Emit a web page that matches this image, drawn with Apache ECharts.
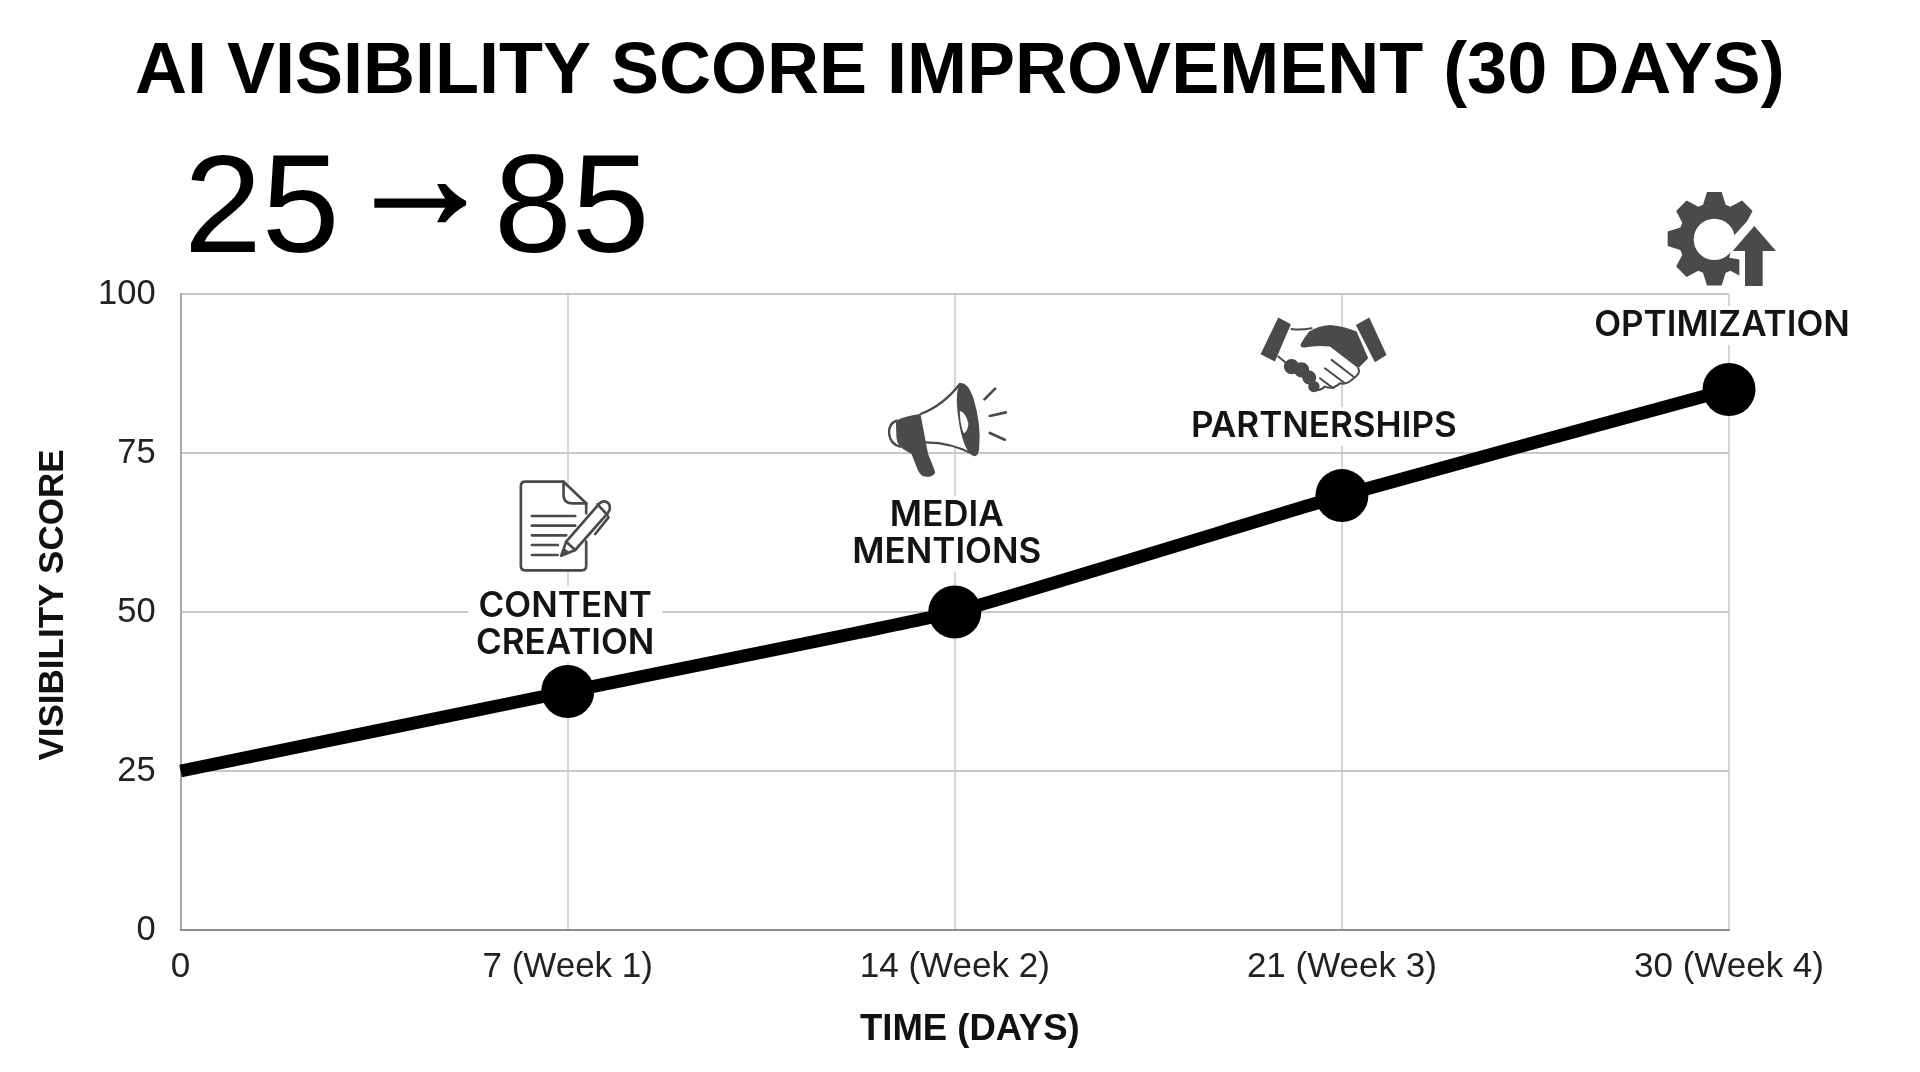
<!DOCTYPE html>
<html>
<head>
<meta charset="utf-8">
<title>AI Visibility Score Improvement</title>
<script src="https://cdn.jsdelivr.net/npm/echarts@6/dist/echarts.min.js"></script>
<style>html,body{margin:0;padding:0;background:#fefefe}#chart{width:1920px;height:1072px}</style>
</head>
<body>
<div id="chart"></div>
<script>
const chartTitle = 'AI VISIBILITY SCORE IMPROVEMENT (30 DAYS)';
const dayLabels = ['0', '7 (Week 1)', '14 (Week 2)', '21 (Week 3)', '30 (Week 4)'];
const visibilityScores = [25, 37.5, 50, 68.3, 85];
const milestones = ['', 'CONTENT\nCREATION', 'MEDIA\nMENTIONS', 'PARTNERSHIPS', 'OPTIMIZATION'];
const scoreTicks = [0, 25, 50, 75, 100];

const labelOffsets = [null, [-2.5, -67], [-8, -78], [-18, -69], [-7, -64]];
const PAGE = '#fefefe', INK = '#4a4a4a';

function gearPath(cx, cy, ro, rr) {
  let d = '';
  for (let k = 0; k < 8; k++) {
    const a = -Math.PI / 2 + k * Math.PI / 4;
    const c = Math.cos(a), s = Math.sin(a);
    const pt = (r, w) => (cx + r * c - w * s).toFixed(1) + ' ' + (cy + r * s + w * c).toFixed(1);
    d += (k ? 'L' : 'M') + pt(rr, -34) + 'L' + pt(ro, -22) + 'L' + pt(ro, 22) + 'L' + pt(rr, 34);
  }
  return d + 'Z';
}
function disc(cx, cy, r) {
  return 'M' + (cx - r) + ' ' + cy + 'a' + r + ' ' + r + ' 0 1 0 ' + (2 * r) + ' 0a' + r + ' ' + r + ' 0 1 0 ' + (-2 * r) + ' 0Z';
}

const icons = [
  null,
  { dx: -87.5, dy: -231.5, parts: [
    { d: 'M250 65H135Q122 65 122 78V318Q122 331 135 331H305Q318 331 318 318V130Z', fill: PAGE },
    { d: 'M318 160V130L250 65H135Q122 65 122 78V318Q122 331 135 331H305Q318 331 318 318V245', stroke: INK, lw: 8 },
    { d: 'M250 65V105Q250 130 275 130H318', stroke: INK, lw: 8 },
    { d: 'M155 168H285M155 197H285M155 226H258M155 255H233M155 285H232', stroke: INK, lw: 8 },
    { d: 'M243 287L258 245L358 130Q372 118 385 130Q395 145 382 160L285 270Z', fill: PAGE, stroke: INK, lw: 8 },
    { d: 'M258 245L285 270M352 133L382 165M345 222L385 172', stroke: INK, lw: 8 },
    { d: 'M243 287L250 262L268 277Z', fill: INK }
  ]},
  { dx: -75, dy: -238, parts: [
    { d: 'M50 140Q25 150 28 180Q32 210 60 218', stroke: INK, lw: 7 },
    { d: 'M122 120Q190 95 240 30L285 243Q215 205 138 205Z', fill: PAGE },
    { d: 'M122 120Q190 95 240 30M138 205Q215 205 285 243', stroke: INK, lw: 7 },
    { d: 'M48 140Q80 125 122 120L138 205L145 240L165 290Q170 300 150 308Q125 312 115 290L95 240L70 225Q52 215 50 190Z', fill: INK },
    { d: 'M240 28Q262 22 280 70Q305 150 298 225Q295 250 280 245Q255 235 240 160Q222 60 240 28Z', fill: INK },
    { d: 'M240 110Q258 115 266 150Q262 175 252 178Q240 150 240 110Z', fill: PAGE },
    { d: 'M314 76L346 44M330 126L378 115M330 177L375 197', stroke: INK, lw: 8 }
  ]},
  { dx: -92, dy: -190.7, parts: [
    { d: 'M130 75L180 85L155 120L240 125L325 190Q335 205 305 225Q290 240 270 235Q250 255 225 245Q210 260 190 255L100 170Z', fill: PAGE },
    { d: 'M85 38L123 58L75 170L32 148Z', fill: INK },
    { d: 'M358 38L318 60L375 172L410 150Z', fill: INK },
    { d: 'M125 72Q150 76 185 70', stroke: INK, lw: 6 },
    { d: 'M178 80Q205 62 240 60Q290 65 320 80L355 160L325 190L240 125Q200 120 165 128Q150 128 152 118Q165 95 178 80Z', fill: INK },
    { d: 'M325 190Q335 205 305 225Q290 240 270 235Q250 255 225 245Q210 260 190 255', stroke: INK, lw: 6 },
    { d: 'M245 165L310 215M225 190L285 235M210 220L250 250M85 155L110 175', stroke: INK, lw: 6 },
    { d: disc(125, 185, 23) + disc(155, 195, 23) + disc(178, 218, 21) + disc(192, 245, 17), fill: INK }
  ]},
  { dx: -68, dy: -210, parts: [
    { d: gearPath(160, 178, 140, 102), fill: INK },
    { d: disc(160, 180, 62), fill: PAGE },
    { d: 'M295 85L218 170L205 235L235 240V330H400V80Z', fill: PAGE },
    { d: 'M280 140L345 215H305V320H252V215H215Z', fill: INK }
  ]}
];

function renderIcon(params, api) {
  const icon = icons[params.dataIndex];
  if (!icon) return null;
  const p = api.coord([api.value(0), api.value(1)]);
  return {
    type: 'group',
    x: p[0] + icon.dx,
    y: p[1] + icon.dy,
    scaleX: 1 / 3,
    scaleY: 1 / 3,
    children: icon.parts.map(part => ({
      type: 'path',
      shape: { pathData: part.d },
      style: {
        fill: part.fill || 'none',
        stroke: part.stroke || 'none',
        lineWidth: part.lw || 0,
        lineCap: 'round',
        lineJoin: 'round'
      }
    }))
  };
}

const statStyle = { fontFamily: 'Liberation Sans', fontSize: 140, fontWeight: 'normal', color: '#000' };

const chart = echarts.init(document.getElementById('chart'), null, { renderer: 'canvas' });
chart.setOption({
  animation: false,
  backgroundColor: PAGE,
  textStyle: { fontFamily: 'Liberation Sans' },
  title: [
    {
      text: chartTitle, left: 130, top: 32,
      textStyle: { fontFamily: 'Liberation Sans', fontWeight: 'bold', fontSize: 72, color: '#000' }
    },
    { text: '25', left: 179, top: 138, textStyle: statStyle },
    {
      text: '\u2192', left: 340, top: 107,
      textStyle: { fontFamily: 'Liberation Sans', fontSize: 150, fontWeight: 'normal', color: '#000', textBorderColor: '#000', textBorderWidth: 3 }
    },
    { text: '85', left: 489, top: 138, textStyle: statStyle }
  ],
  grid: { left: 180.6, right: 191, top: 294, bottom: 142 },
  xAxis: {
    type: 'category',
    data: dayLabels,
    boundaryGap: false,
    name: 'TIME (DAYS)',
    nameLocation: 'middle',
    nameGap: 81,
    nameMoveOverlap: false,
    nameTextStyle: { fontFamily: 'Liberation Sans', fontWeight: 'bold', fontSize: 36.5, color: '#111', padding: [0, 0, 0, 30] },
    axisLine: { show: true, lineStyle: { color: '#8c8c8c', width: 2 } },
    axisTick: { show: false },
    axisLabel: { fontSize: 35, color: '#222', margin: 20, hideOverlap: false, interval: 0 },
    splitLine: { show: true, lineStyle: { color: '#c8c8c8', width: 1.5 } }
  },
  yAxis: {
    type: 'value',
    min: scoreTicks[0],
    max: scoreTicks[scoreTicks.length - 1],
    interval: scoreTicks[1] - scoreTicks[0],
    name: 'VISIBILITY SCORE',
    nameLocation: 'middle',
    nameRotate: 90,
    nameGap: 110,
    nameMoveOverlap: false,
    nameTextStyle: { fontFamily: 'Liberation Sans', fontWeight: 'bold', fontSize: 35, color: '#111', padding: [0, 0, 0, 14] },
    axisLine: { show: true, lineStyle: { color: '#a8a8a8', width: 2 } },
    axisTick: { show: false },
    axisLabel: { fontSize: 34.5, color: '#222', margin: 25, padding: [4, 0, 0, 0] },
    splitLine: { show: true, lineStyle: { color: '#c8c8c8', width: 2 } }
  },
  series: [
    {
      type: 'custom',
      renderItem: renderIcon,
      coordinateSystem: 'cartesian2d',
      data: visibilityScores.map((v, i) => [i, v]),
      encode: { x: 0, y: 1 },
      silent: true,
      clip: false,
      z: 3
    },
    {
      type: 'line',
      data: visibilityScores.map((v, i) => ({
        value: v,
        label: milestones[i] ? {
          show: true,
          position: 'inside',
          formatter: milestones[i],
          offset: labelOffsets[i],
          fontFamily: 'Inter',
          fontWeight: 600,
          fontSize: 35,
          lineHeight: 37,
          color: '#141414',
          backgroundColor: PAGE,
          padding: [1, 8, 1, 8]
        } : { show: false }
      })),
      smooth: 0.1,
      clip: false,
      showAllSymbol: true,
      symbol: 'circle',
      symbolSize: (v, p) => (p.dataIndex === 0 ? 0 : 53),
      lineStyle: { color: '#000', width: 13, cap: 'butt' },
      itemStyle: { color: '#000' },
      z: 4
    }
  ]
});
</script>
</body>
</html>
